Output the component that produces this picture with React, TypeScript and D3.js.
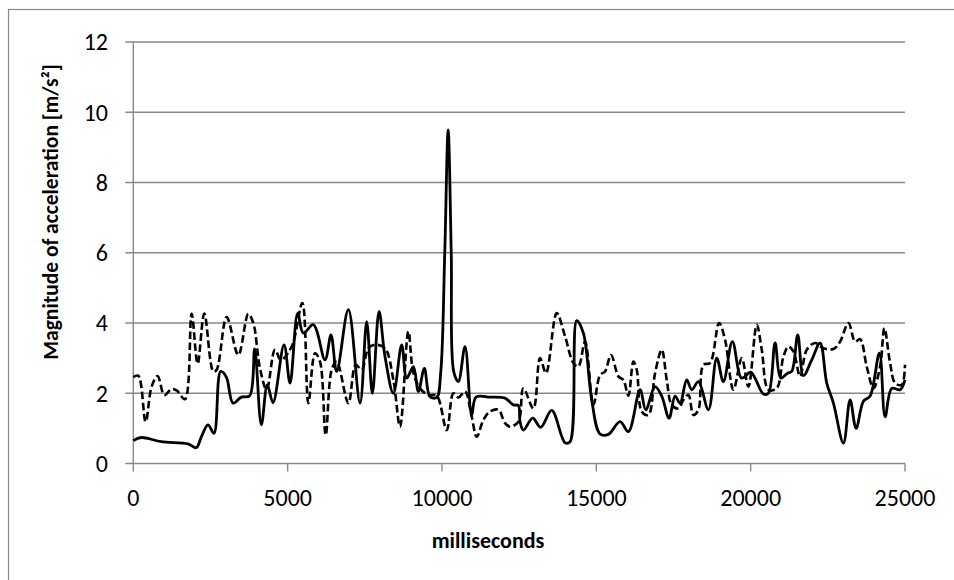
import React from "react";
import * as d3 from "d3";

// Solid series: [milliseconds, magnitude]
const solidMs = [0, 260, 908, 1772, 2042, 2204, 2420, 2614, 2830, 3014, 3230, 3500, 3770, 3932, 4148, 4342, 4526, 4883, 5077, 5325, 5509, 5833, 6211, 6405, 6589, 6967, 7345, 7561, 7745, 7961, 8155, 8425, 8695, 8857, 9073, 9235, 9429, 9613, 9829, 9960, 10090, 10200, 10300, 10380, 10531, 10747, 10963, 11103, 11557, 12043, 12313, 12475, 12529, 12637, 12939, 13199, 13555, 13987, 14149, 14365, 14581, 14851, 15121, 15391, 15769, 16039, 16417, 16601, 16903, 17119, 17357, 17551, 17713, 17929, 18091, 18307, 18631, 18901, 19117, 19408, 19711, 20000, 20143, 20413, 20575, 20791, 20975, 21191, 21331, 21525, 21709, 21979, 22249, 22465, 22681, 23005, 23221, 23415, 23653, 23869, 24171, 24355, 24571, 24841, 25000];
const solidVal = [0.65, 0.74, 0.62, 0.56, 0.45, 0.76, 1.1, 0.86, 2.62, 2.46, 1.72, 1.89, 1.93, 3.26, 1.1, 2.24, 1.73, 3.38, 2.29, 4.28, 3.71, 3.95, 2.95, 3.66, 2.62, 4.38, 1.72, 4.04, 2.0, 4.33, 3.04, 2.0, 3.38, 2.43, 2.76, 2.05, 2.71, 1.9, 1.88, 2.6, 6.0, 9.5, 6.0, 2.62, 2.33, 3.33, 1.38, 1.89, 1.89, 1.86, 1.67, 1.65, 1.19, 0.95, 1.29, 1.03, 1.51, 0.59, 0.62, 4.07, 3.71, 1.81, 0.84, 0.83, 1.19, 0.91, 2.1, 1.53, 2.19, 1.92, 1.29, 1.92, 1.72, 2.38, 2.1, 2.33, 1.53, 3.0, 2.33, 3.47, 2.43, 2.6, 2.43, 1.98, 2.0, 3.43, 2.43, 2.57, 2.62, 3.66, 2.5, 2.95, 3.43, 2.29, 1.72, 0.58, 1.81, 1.0, 1.77, 1.92, 3.14, 1.33, 2.14, 2.1, 2.38];

// Dashed series: [milliseconds, magnitude]
const dashedMs = [0, 162, 400, 594, 788, 1004, 1242, 1404, 1674, 1890, 2084, 2300, 2592, 2700, 3024, 3402, 3726, 3888, 4104, 4320, 4590, 4784, 5131, 5477, 5671, 5887, 6049, 6233, 6427, 6589, 6967, 7205, 7399, 7615, 7831, 8155, 8425, 8641, 8911, 9073, 9289, 9559, 9829, 10153, 10369, 10531, 10747, 10963, 11125, 11341, 11557, 11827, 12043, 12205, 12475, 12637, 12961, 13177, 13371, 13717, 13987, 14257, 14419, 14635, 14905, 15121, 15283, 15477, 15715, 15877, 16039, 16201, 16309, 16471, 16687, 16903, 17119, 17281, 17443, 17659, 17821, 17983, 18145, 18307, 18469, 18685, 18977, 19171, 19441, 19711, 19927, 20197, 20359, 20575, 20845, 21061, 21223, 21385, 21601, 21817, 22087, 22357, 22681, 22897, 23167, 23383, 23545, 23761, 23977, 24193, 24333, 24517, 24679, 24895, 25000];
const dashedVal = [2.46, 2.5, 1.19, 2.19, 2.49, 1.95, 2.12, 2.08, 1.83, 4.26, 2.84, 4.27, 2.62, 2.67, 4.17, 3.09, 4.26, 4.0, 2.71, 2.1, 3.24, 2.95, 3.33, 4.57, 1.72, 3.14, 2.9, 0.81, 2.67, 2.9, 1.72, 2.81, 2.67, 3.28, 3.38, 3.28, 2.38, 1.05, 3.76, 2.57, 2.14, 1.95, 1.93, 0.95, 2.0, 1.88, 2.05, 1.33, 0.76, 1.24, 1.48, 1.53, 1.15, 1.05, 1.19, 2.14, 1.57, 3.0, 2.57, 4.28, 3.62, 2.86, 2.76, 3.47, 1.67, 2.52, 2.62, 3.09, 2.48, 2.38, 1.93, 2.9, 2.67, 1.48, 1.38, 2.57, 3.24, 2.38, 1.67, 1.57, 1.81, 1.95, 1.38, 1.53, 2.81, 2.86, 4.0, 3.52, 2.1, 3.0, 2.19, 3.95, 3.24, 2.1, 2.14, 3.04, 3.33, 3.19, 2.48, 3.24, 3.43, 3.28, 3.26, 3.47, 4.0, 3.47, 3.54, 2.76, 2.14, 2.76, 3.85, 2.86, 2.29, 2.24, 2.81];

const xTicks = [0, 5000, 10000, 15000, 20000, 25000];
const yTicks = [0, 2, 4, 6, 8, 10, 12];

const W = 954;
const H = 580;
const left = 133.3;
const right = 905;
const top = 42;
const bottom = 463.5;
const font = "Carlito, Calibri, Lato, sans-serif";
const grid = "#898989";

export default function App() {
  const x = d3.scaleLinear().domain([0, 25000]).range([left, right]);
  const y = d3.scaleLinear().domain([0, 12]).range([bottom, top]);
  const line = d3
    .line<[number, number]>()
    .x((d) => x(d[0]))
    .y((d) => y(d[1]))
    .curve(d3.curveCatmullRom.alpha(0.5));
  const solid: [number, number][] = solidMs.map((m, i) => [m, solidVal[i]]);
  const dashed: [number, number][] = dashedMs.map((m, i) => [m, dashedVal[i]]);

  return (
    <svg
      width={W}
      height={H}
      style={{ position: "absolute", left: 0, top: 0, background: "#fff" }}
    >
      <rect x={8.5} y={9.5} width={1000} height={1000} fill="#fff" stroke={grid} strokeWidth={1.2} />
      {yTicks.map((t) => (
        <g key={"y" + t}>
          <line x1={left - 8} x2={right} y1={y(t)} y2={y(t)} stroke={grid} strokeWidth={1.4} />
          <text x={108} y={y(t)} dy="0.35em" textAnchor="end" fontFamily={font} fontSize={24} fill="#000">
            {t}
          </text>
        </g>
      ))}
      <line x1={left} x2={left} y1={top} y2={bottom} stroke={grid} strokeWidth={1.4} />
      {xTicks.map((t) => (
        <g key={"x" + t}>
          <line x1={x(t)} x2={x(t)} y1={bottom} y2={bottom + 8} stroke={grid} strokeWidth={1.4} />
          <text x={x(t)} y={498} dy="0.35em" textAnchor="middle" fontFamily={font} fontSize={24} fill="#000">
            {t}
          </text>
        </g>
      ))}
      <path d={line(dashed) || ""} fill="none" stroke="#000" strokeWidth={2.6} strokeDasharray="7.5,3.5" />
      <path d={line(solid) || ""} fill="none" stroke="#000" strokeWidth={2.8} />
      <text x={488} y={540} dy="0.35em" textAnchor="middle" fontFamily={font} fontSize={22} fontWeight="bold" fill="#000">
        milliseconds
      </text>
      <text
        transform={`translate(50,212) rotate(-90)`}
        dy="0.35em"
        textAnchor="middle"
        fontFamily={font}
        fontSize={21.5}
        fontWeight="bold"
        fill="#000"
      >
        Magnitude of acceleration [m/s²]
      </text>
    </svg>
  );
}
